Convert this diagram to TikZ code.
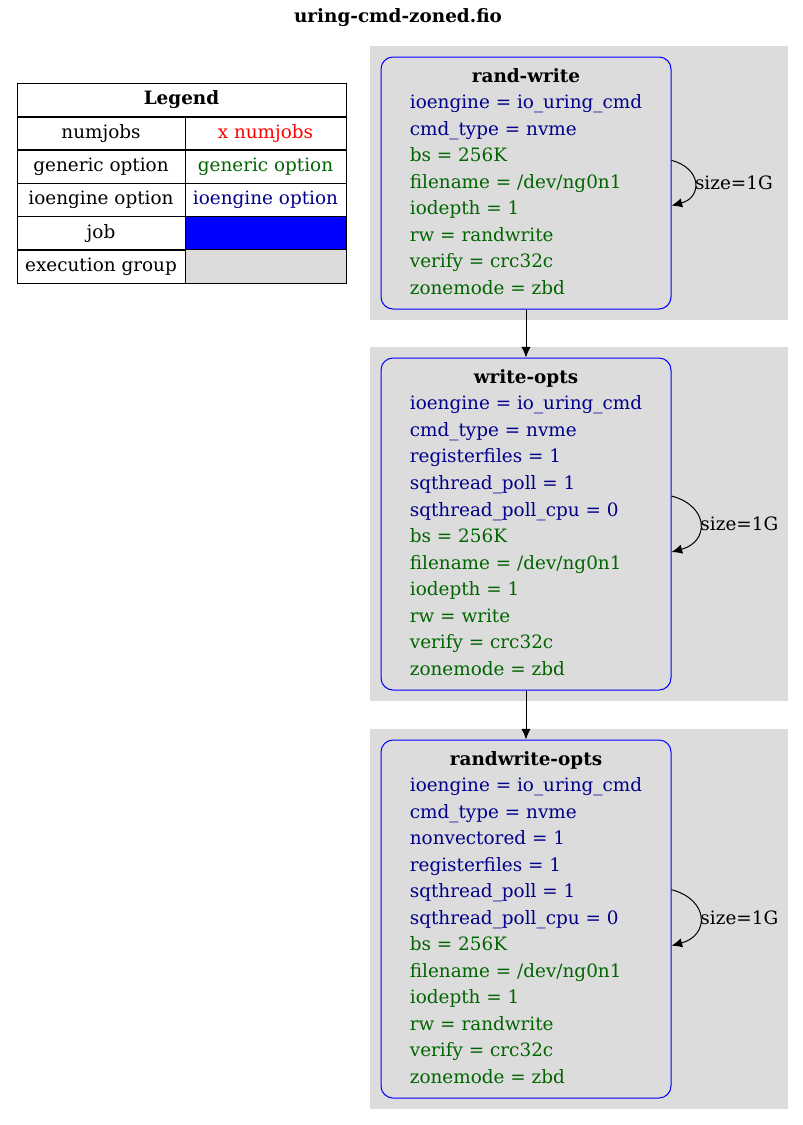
\documentclass[tikz,border=0pt]{standalone}
\usepackage{fontspec}
\setmainfont{DejaVu Serif}
\usepackage{tikz}
\usetikzlibrary{positioning}
\usetikzlibrary{%
  calc,%
  arrows.meta%
}
\definecolor{grp}{HTML}{DCDCDC}
\definecolor{genopt}{HTML}{006400}
\definecolor{engopt}{HTML}{00008B}
\newcommand{\ioeng}[1]{\textcolor{engopt}{#1}}
\newcommand{\genop}[1]{\textcolor{genopt}{#1}}
\newcommand{\jobfont}{\fontsize{13.8}{19.9}\selectfont}
\tikzset{
	job/.style={draw=blue, line width=0.75pt, fill=grp, rounded corners=9pt, minimum width=217.5pt, inner sep=0pt, font=\jobfont},
	group/.style={fill=grp, inner sep=0pt},
	cell/.style={draw, line width=0.75pt, minimum width=126pt, minimum height=25pt, inner sep=0pt, font=\jobfont},
	loop/.style={->, out=-15, in=15, looseness=1.8}
}

\begin{document}
\begin{tikzpicture}[x=0.75pt, y=-0.75pt, >={Latex[length=8pt,width=7pt]}, line width=0.75pt]
	\useasboundingbox (0,0) rectangle (803,1125);
	%Title
	\node[font=\jobfont\bfseries] (T) at (398,18) {uring-cmd-zoned.fio};
	%Legend
	\node[cell, minimum width=246.75pt, minimum height=25.5pt, font=\jobfont\bfseries] (L) at (181.5,100) {Legend};
	\node[cell] (L1) at (101,133.5) {numjobs};
	\node[cell, minimum width=120.75pt, text=red] (R1) at (265.5,133.5) {x numjobs};
	\node[cell] (L2) at (101,166.5) {generic option};
	\node[cell, minimum width=120.75pt, text=genopt] (R2) at (265.5,166.5) {generic option};
	\node[cell] (L3) at (101,200) {ioengine option};
	\node[cell, minimum width=120.75pt, text=engopt] (R3) at (265.5,200) {ioengine option};
	\node[cell] (L4) at (101,233.5) {job};
	\node[cell, minimum width=120.75pt, fill=blue] (R4) at (265.5,233.5) {};
	\node[cell] (L5) at (101,266.5) {execution group};
	\node[cell, minimum width=120.75pt, fill=grp] (R5) at (265.5,266.5) {};
	%Groups
	\node[group, minimum width=313.5pt, minimum height=205.5pt] (G0) at (579,183) {};
	\node[group, minimum width=313.5pt, minimum height=265.5pt] (G1) at (579,524) {};
	\node[group, minimum width=313.5pt, minimum height=285pt] (G2) at (579,919) {};
	%Jobs
	\node[job, minimum height=189pt] (J0) at (526,183) {%
		\begin{tabular}{@{}l@{}}
		\multicolumn{1}{@{}c@{}}{\textbf{rand-write}}\\
		\ioeng{ioengine = io\_uring\_cmd}\\
		\ioeng{cmd\_type = nvme}\\
		\genop{bs = 256K}\\
		\genop{filename = /dev/ng0n1}\\
		\genop{iodepth = 1}\\
		\genop{rw = randwrite}\\
		\genop{verify = crc32c}\\
		\genop{zonemode = zbd}
		\end{tabular}};
	\node[job, minimum height=249pt] (J1) at (526,524) {%
		\begin{tabular}{@{}l@{}}
		\multicolumn{1}{@{}c@{}}{\textbf{write-opts}}\\
		\ioeng{ioengine = io\_uring\_cmd}\\
		\ioeng{cmd\_type = nvme}\\
		\ioeng{registerfiles = 1}\\
		\ioeng{sqthread\_poll = 1}\\
		\ioeng{sqthread\_poll\_cpu = 0}\\
		\genop{bs = 256K}\\
		\genop{filename = /dev/ng0n1}\\
		\genop{iodepth = 1}\\
		\genop{rw = write}\\
		\genop{verify = crc32c}\\
		\genop{zonemode = zbd}
		\end{tabular}};
	\node[job, minimum height=268.5pt] (J2) at (526,919) {%
		\begin{tabular}{@{}l@{}}
		\multicolumn{1}{@{}c@{}}{\textbf{randwrite-opts}}\\
		\ioeng{ioengine = io\_uring\_cmd}\\
		\ioeng{cmd\_type = nvme}\\
		\ioeng{nonvectored = 1}\\
		\ioeng{registerfiles = 1}\\
		\ioeng{sqthread\_poll = 1}\\
		\ioeng{sqthread\_poll\_cpu = 0}\\
		\genop{bs = 256K}\\
		\genop{filename = /dev/ng0n1}\\
		\genop{iodepth = 1}\\
		\genop{rw = randwrite}\\
		\genop{verify = crc32c}\\
		\genop{zonemode = zbd}
		\end{tabular}};
	%Edges
	\draw[->] (J0) -- (J1);
	\draw[->] (J1) -- (J2);
	%Loops
	\draw ([yshift=17pt]J0.east) edge[loop] node[right, inner sep=0pt, font=\jobfont] (S0) {size=1G} ([yshift=-17pt]J0.east);
	\draw ([yshift=21pt]J1.east) edge[loop] node[right, inner sep=0pt, font=\jobfont] (S1) {size=1G} ([yshift=-21pt]J1.east);
	\draw ([yshift=22pt]J2.east) edge[loop] node[right, inner sep=0pt, font=\jobfont] (S2) {size=1G} ([yshift=-20pt]J2.east);
\end{tikzpicture}
\end{document}
